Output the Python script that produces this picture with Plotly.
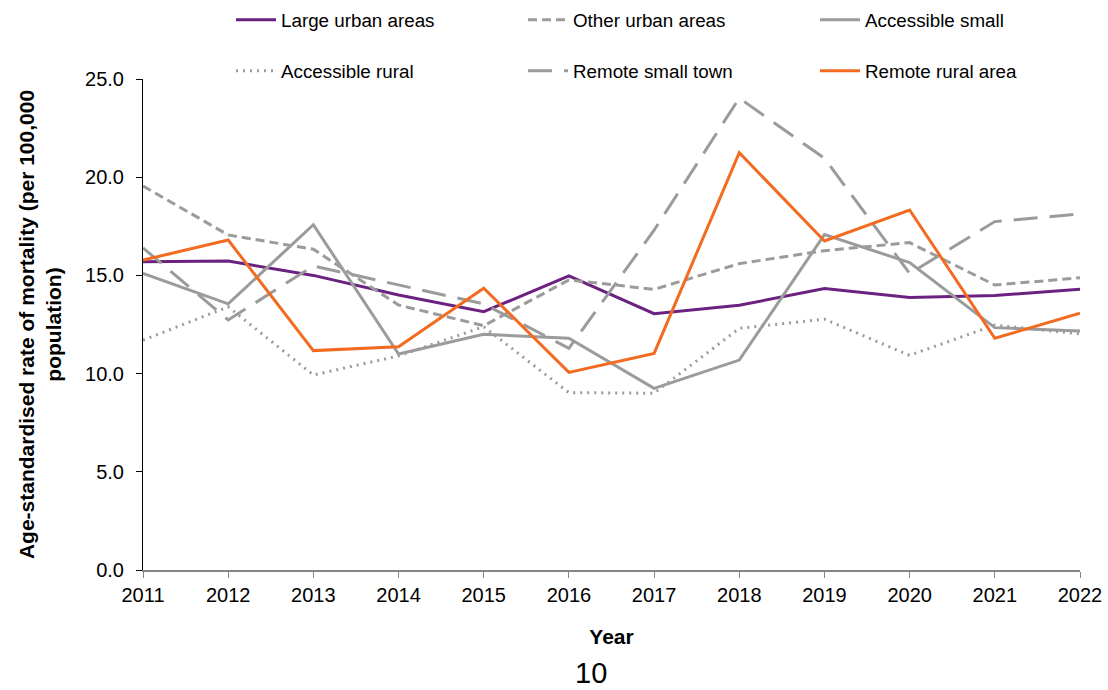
import plotly.graph_objects as go

years = [2011, 2012, 2013, 2014, 2015, 2016, 2017, 2018, 2019, 2020, 2021, 2022]
year_labels = [str(y) for y in years]

large_urban = [15.7, 15.73, 15.0, 14.0, 13.15, 14.97, 13.05, 13.48, 14.33, 13.87, 13.98, 14.29]
other_urban = [19.55, 17.06, 16.33, 13.49, 12.44, 14.77, 14.29, 15.6, 16.26, 16.67, 14.51, 14.88]
accessible_small = [15.1, 13.55, 17.58, 11.0, 12.0, 11.8, 9.25, 10.69, 17.08, 15.65, 12.34, 12.17]
accessible_rural = [11.7, 13.4, 9.93, 10.9, 12.39, 9.03, 9.0, 12.3, 12.77, 10.93, 12.47, 12.02]
remote_small_town = [16.4, 12.73, 15.48, 14.5, 13.55, 11.29, 17.3, 24.03, 20.96, 15.1, 17.74, 18.13]
remote_rural = [15.78, 16.8, 11.17, 11.37, 14.35, 10.06, 11.03, 21.25, 16.75, 18.33, 11.8, 13.07]

y_ticks = [0, 5, 10, 15, 20, 25]

PURPLE = "#6b2180"
ORANGE = "#f26b21"
GREY = "#9b9b9b"

series = [
    ("Large urban areas", large_urban, PURPLE, "solid", "legend"),
    ("Other urban areas", other_urban, GREY, "9px,5px", "legend"),
    ("Accessible small", accessible_small, GREY, "solid", "legend"),
    ("Accessible rural", accessible_rural, GREY, "2px,5px", "legend2"),
    ("Remote small town", remote_small_town, GREY, "24px,12px", "legend2"),
    ("Remote rural area", remote_rural, ORANGE, "solid", "legend2"),
]

fig = go.Figure()
for name, vals, color, dash, leg in series:
    fig.add_trace(go.Scatter(
        x=years, y=vals, name=name, mode="lines",
        line=dict(color=color, width=3, dash=dash),
        legend=leg,
    ))

font_family = "Liberation Sans, Arial, sans-serif"
legend_common = dict(
    orientation="h", xref="container", yref="container",
    xanchor="left", yanchor="middle",
    entrywidth=237, entrywidthmode="pixels",
    font=dict(size=18.8, color="#000000", family=font_family),
    bgcolor="rgba(0,0,0,0)", itemwidth=40, traceorder="normal",
)

fig.update_layout(
    width=1108, height=690,
    margin=dict(l=143, r=28, t=79, b=120, autoexpand=False),
    paper_bgcolor="white", plot_bgcolor="white",
    font=dict(family=font_family, color="#000000"),
    legend=dict(x=231/1108, y=1 - 20/690, **legend_common),
    legend2=dict(x=231/1108, y=1 - 71/690, **legend_common),
    xaxis=dict(
        range=[2011, 2022], tickmode="array", tickvals=years, ticktext=year_labels,
        showline=True, linecolor="#868686", linewidth=1.5,
        ticks="outside", ticklen=6, tickcolor="#868686",
        showgrid=False, zeroline=False, automargin=False,
        tickfont=dict(size=20, family=font_family),
        title=dict(text="<b>Year</b>", font=dict(size=21, family=font_family), standoff=25),
    ),
    yaxis=dict(
        range=[0, 25], tickmode="array", tickvals=y_ticks,
        tickformat=".1f",
        showline=True, linecolor="#000000", linewidth=1,
        ticks="outside", ticklen=6, tickcolor="#000000",
        showgrid=False, zeroline=False, automargin=False,
        ticklabelstandoff=8,
        tickfont=dict(size=20, family=font_family),
        title=dict(text="<b>Age-standardised rate of mortality (per 100,000<br>population)</b>",
                   font=dict(size=21, family=font_family), standoff=17),
    ),
)

fig.add_annotation(
    text="10", xref="paper", yref="paper", x=(591 - 143) / 937, y=(570 - 690) / 491,
    showarrow=False, font=dict(size=29, family=font_family, color="#000000"),
    xanchor="center", yanchor="bottom", borderpad=0,
)

fig.write_html("out.html", config={"displayModeBar": False},
               post_script="document.body.style.margin='0';")
